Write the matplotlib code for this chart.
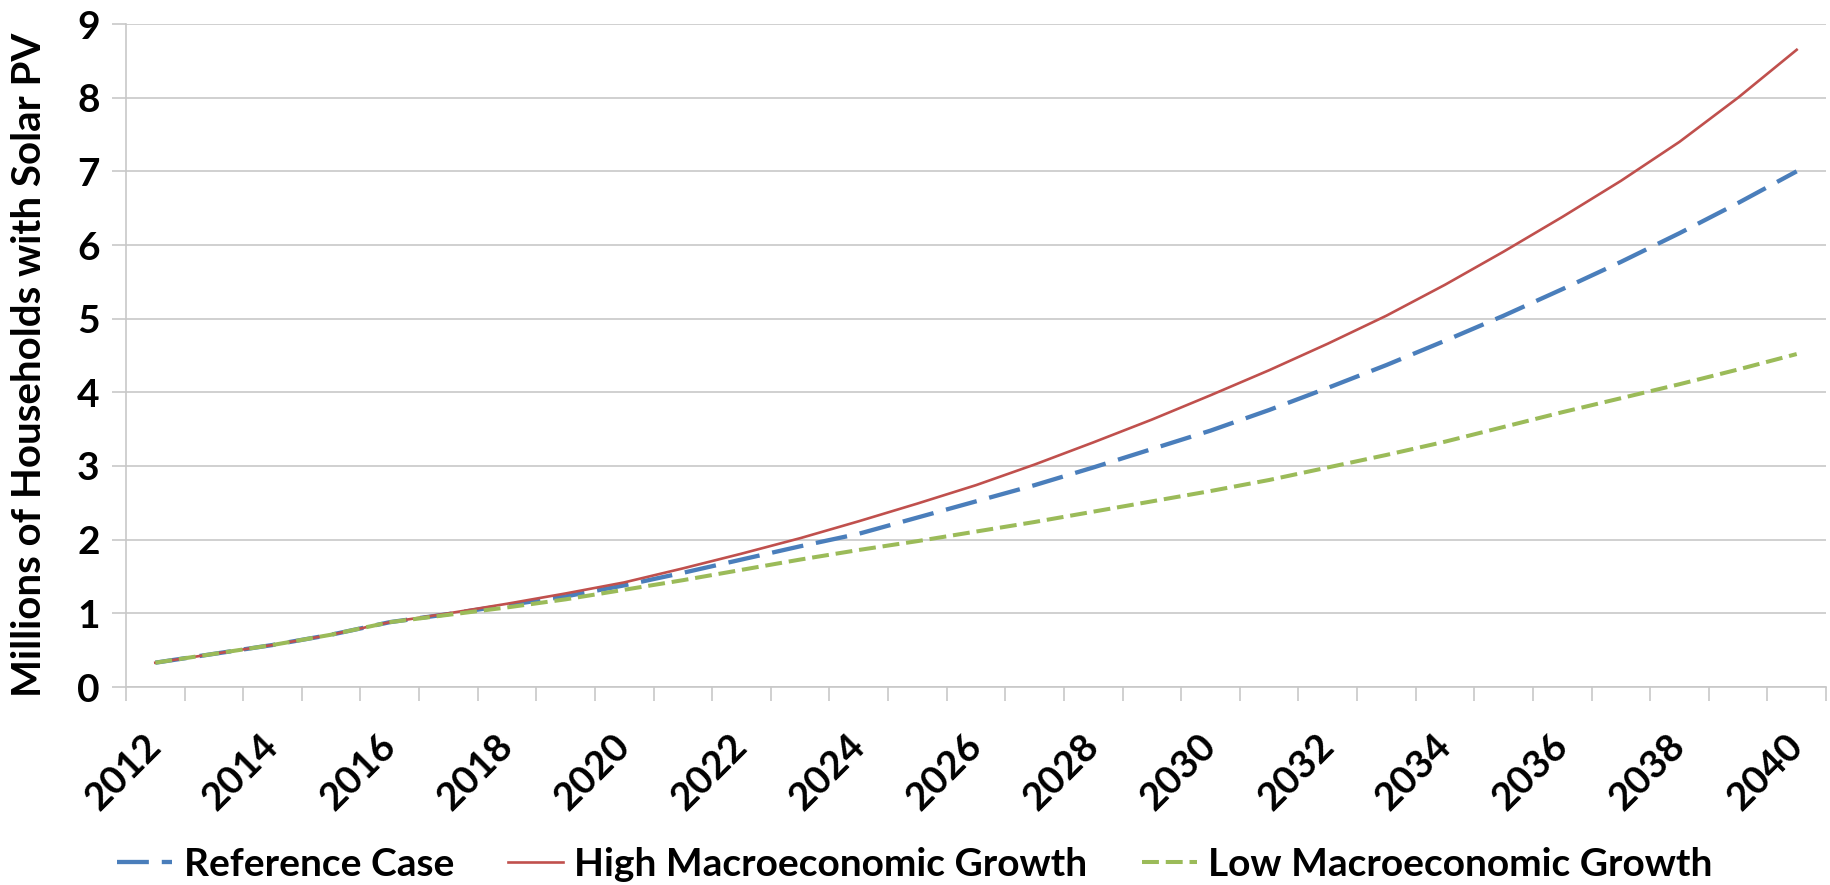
import matplotlib
matplotlib.use("Agg")
import matplotlib.pyplot as plt
from matplotlib.ticker import FixedLocator

years = list(range(2012, 2041))
reference_case = [0.33, 0.45, 0.57, 0.71, 0.88, 0.99, 1.11, 1.23, 1.38, 1.55,
                  1.73, 1.91, 2.08, 2.30, 2.52, 2.74, 2.98, 3.23, 3.48, 3.76,
                  4.06, 4.37, 4.70, 5.04, 5.40, 5.77, 6.16, 6.57, 7.00]
high_growth = [0.33, 0.45, 0.57, 0.71, 0.88, 1.00, 1.13, 1.27, 1.42, 1.61,
               1.81, 2.02, 2.25, 2.49, 2.74, 3.02, 3.32, 3.63, 3.96, 4.30,
               4.66, 5.04, 5.46, 5.91, 6.38, 6.87, 7.40, 8.00, 8.65]
low_growth = [0.33, 0.45, 0.57, 0.71, 0.88, 0.98, 1.08, 1.19, 1.32, 1.45,
              1.59, 1.73, 1.86, 1.98, 2.11, 2.24, 2.38, 2.52, 2.66, 2.81,
              2.98, 3.15, 3.33, 3.53, 3.73, 3.92, 4.11, 4.31, 4.52]
series_names = ["Reference Case", "High Macroeconomic Growth", "Low Macroeconomic Growth"]
y_ticks = list(range(0, 10))

FONT = "Lato"
W, H = 1831, 885
fig = plt.figure(figsize=(W / 100, H / 100), dpi=100)
left, right, top, bottom = 126, 1826, 24, 687
ax = fig.add_axes([left / W, 1 - bottom / H, (right - left) / W, (bottom - top) / H])

x = list(range(len(years)))
grid_c = "#c8c8c8"

l1, = ax.plot(x, reference_case, color="#4a7ebb", lw=3.1, dashes=(7.4, 3.0),
              solid_capstyle="butt", dash_capstyle="butt", zorder=3)
l2, = ax.plot(x, high_growth, color="#c0504d", lw=1.9, zorder=4)
l3, = ax.plot(x, low_growth, color="#9bbb59", lw=2.9, dashes=(4.2, 1.7),
              dash_capstyle="butt", zorder=5)

ax.set_xlim(-0.5, len(years) - 0.5)
ax.set_ylim(0, 9)
ax.set_yticks(y_ticks)
ax.set_yticklabels([str(v) for v in y_ticks], fontsize=28, fontweight="bold", family=FONT)
ax.yaxis.grid(True, color=grid_c, lw=1.2)
ax.set_axisbelow(True)

ax.set_xticks(x[::2])
ax.set_xticklabels([str(y) for y in years[::2]], rotation=45, ha="right", va="center",
                   rotation_mode="anchor", fontsize=28, fontweight="bold", family=FONT)
ax.xaxis.set_minor_locator(FixedLocator([i - 0.5 for i in range(len(years) + 1)]))
ax.tick_params(axis="x", which="major", length=0, pad=38)
ax.tick_params(axis="x", which="minor", length=10, width=1.2, color=grid_c, direction="out")
ax.tick_params(axis="y", length=10, width=1.2, color=grid_c, pad=9)

for s in ["top", "right"]:
    ax.spines[s].set_visible(False)
for s in ["left", "bottom"]:
    ax.spines[s].set_color(grid_c)
    ax.spines[s].set_linewidth(1.2)

fig.text(30 / W, 1 - 365 / H, "Millions of Households with Solar PV", rotation=90,
         ha="center", va="center", fontsize=29, fontweight="bold", family=FONT)

leg = fig.legend([l1, l2, l3], series_names, loc="center", bbox_to_anchor=(915 / W, 1 - 864 / H),
                 ncol=3, frameon=False, handlelength=1.4, handletextpad=0.3, columnspacing=1.4,
                 prop={"family": FONT, "weight": "bold", "size": 28})

fig.savefig("out.png", dpi=100, facecolor="white")
